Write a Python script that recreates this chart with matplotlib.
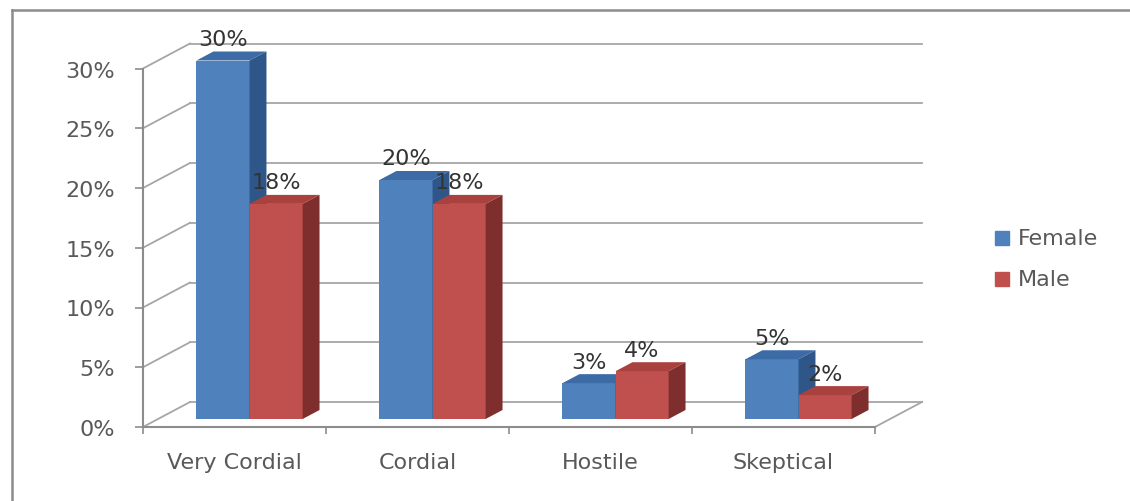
import matplotlib
matplotlib.use("Agg")
import matplotlib.pyplot as plt
from matplotlib.lines import Line2D
from matplotlib.patches import Rectangle

# ---- data ----
categories = ["Very Cordial", "Cordial", "Hostile", "Skeptical"]
female = [30, 20, 3, 5]
male = [18, 18, 4, 2]
series_names = ["Female", "Male"]
yticks = [0, 5, 10, 15, 20, 25, 30]

# ---- style ----
FRONT = {"Female": "#4F81BD", "Male": "#C0504D"}
TOP = {"Female": "#3D6BA6", "Male": "#A9423F"}
SIDE = {"Female": "#2F5689", "Male": "#7E2E2C"}
GRID = "#A6A6A6"
AXC = "#8C8C8C"
TXT = "#595959"
LBL = "#333333"
FS = 16

W, H = 1130, 502
fig = plt.figure(figsize=(W / 100, H / 100), dpi=100)

# oblique projection for depth (in data units)
DX = 47 / 183.0
DY = 25 / 11.95
D0, D1 = 0.32, 0.68
BW = 0.29

x0px, x1px = 143, 922
y0px = 428
ytop = 30 + DY
ytop_px = y0px - ytop * 11.95
ax = fig.add_axes([x0px / W, (H - y0px) / H, (x1px - x0px) / W, (y0px - ytop_px) / H])
ax.set_xlim(0, len(categories) + DX)
ax.set_ylim(0, ytop)
ax.patch.set_alpha(0)

n = len(categories)
# back wall gridlines and side wall
for t in yticks:
    ax.plot([0, DX], [t, t + DY], color=GRID, lw=1.3, zorder=1, clip_on=False)
    ax.plot([DX, n + DX], [t + DY, t + DY], color=GRID, lw=1.3, zorder=1, clip_on=False)
# floor right edge
ax.plot([n, n + DX], [0, DY], color=GRID, lw=1.3, zorder=1, clip_on=False)

# bars
for name, vals, off in [("Female", female, -BW), ("Male", male, 0.0)]:
    lefts = [i + 0.5 + off + D0 * DX for i in range(n)]
    ax.bar(lefts, vals, width=BW, bottom=D0 * DY, align="edge",
           color=FRONT[name], edgecolor="none", zorder=3)
    dd = (D1 - D0)
    for xl, v in zip(lefts, vals):
        yt = v + D0 * DY
        # top face
        ax.fill([xl, xl + BW, xl + BW + dd * DX, xl + dd * DX],
                [yt, yt, yt + dd * DY, yt + dd * DY],
                color=TOP[name], lw=0, zorder=3, clip_on=False)
        # side face
        ax.fill([xl + BW, xl + BW + dd * DX, xl + BW + dd * DX, xl + BW],
                [D0 * DY, D0 * DY + dd * DY, yt + dd * DY, yt],
                color=SIDE[name], lw=0, zorder=3, clip_on=False)
        ax.text(xl + BW / 2, yt + 1.8, f"{v}%", ha="center", va="center",
                fontsize=FS, color=LBL, zorder=5)

# axes
for s in ["top", "right"]:
    ax.spines[s].set_visible(False)
ax.spines["left"].set_bounds(0, 30)
ax.spines["bottom"].set_bounds(0, n)
for s in ["left", "bottom"]:
    ax.spines[s].set_color(AXC)
    ax.spines[s].set_linewidth(1.5)
    ax.spines[s].set_zorder(2)

ax.set_yticks(yticks)
ax.set_yticklabels([f"{t}%" for t in yticks])
ax.tick_params(axis="y", direction="out", length=6, width=1.2, color=AXC,
               labelsize=FS, labelcolor=TXT, pad=14)
ax.set_xticks(range(n + 1))
ax.set_xticklabels([])
ax.set_xticks([i + 0.5 for i in range(n)], minor=True)
ax.set_xticklabels(categories, minor=True)
ax.tick_params(axis="x", which="major", direction="out", length=5, width=1.2, color=AXC)
ax.tick_params(axis="x", which="minor", length=0, labelsize=FS, labelcolor=TXT, pad=18)

# legend (manual)
for k, name in enumerate(series_names):
    cy = 239 + 41 * k
    fig.patches.append(Rectangle((995 / W, (H - cy - 7) / H), 14 / W, 14 / H,
                                 transform=fig.transFigure, color=FRONT[name]))
    fig.text(1018 / W, (H - cy) / H, name, ha="left", va="center",
             fontsize=FS, color=TXT)

# outer frame
fig.lines.append(Line2D([12 / W, 1.0], [(H - 11) / H, (H - 11) / H],
                        transform=fig.transFigure, color="#8C8C8C", lw=1.8))
fig.lines.append(Line2D([12 / W, 12 / W], [0, (H - 11) / H],
                        transform=fig.transFigure, color="#8C8C8C", lw=1.8))

fig.savefig("out.png", dpi=100)
